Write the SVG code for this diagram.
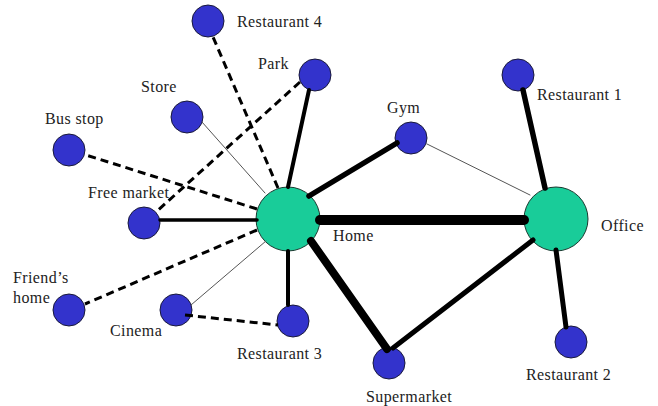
<svg xmlns="http://www.w3.org/2000/svg" width="658" height="406" viewBox="0 0 658 406">
<style>
.bg{fill:#ffffff}
.site{fill:#3333cc;stroke:#1a1a3a;stroke-width:1}
.hub{fill:#19cc99;stroke:#1a3a30;stroke-width:1}
.lbl{font-family:"Liberation Serif","Times New Roman",serif;font-size:16px;letter-spacing:0.4px;fill:#222222}
.e{stroke:#000000;fill:none;stroke-linecap:round}
.thin{stroke:#555555;stroke-width:1}
.dash{stroke-width:3;stroke-dasharray:8 5;stroke-linecap:butt}
</style>
<rect class="bg" x="0" y="0" width="658" height="406"/>
<g id="nodes">
  <g id="home"><circle class="hub" cx="288" cy="219" r="32"/><text class="lbl" x="333" y="241">Home</text></g>
  <g id="office"><circle class="hub" cx="556" cy="219" r="32"/><text class="lbl" x="601" y="231">Office</text></g>
  <g id="restaurant4"><circle class="site" cx="208" cy="21" r="16"/><text class="lbl" x="237" y="27">Restaurant 4</text></g>
  <g id="park"><circle class="site" cx="315" cy="75" r="16"/><text class="lbl" x="258" y="69">Park</text></g>
  <g id="store"><circle class="site" cx="187" cy="117" r="16"/><text class="lbl" x="141" y="92">Store</text></g>
  <g id="busstop"><circle class="site" cx="69" cy="150" r="16"/><text class="lbl" x="45" y="124">Bus stop</text></g>
  <g id="gym"><circle class="site" cx="411" cy="138" r="16"/><text class="lbl" x="387" y="113">Gym</text></g>
  <g id="restaurant1"><circle class="site" cx="518" cy="75" r="16"/><text class="lbl" x="537" y="100">Restaurant 1</text></g>
  <g id="freemarket"><circle class="site" cx="144" cy="223" r="16"/><text class="lbl" x="88" y="198">Free market</text></g>
  <g id="friendshome"><circle class="site" cx="69" cy="310" r="16"/><text class="lbl" x="13" y="283">Friend’s</text><text class="lbl" x="13" y="303">home</text></g>
  <g id="cinema"><circle class="site" cx="176" cy="310" r="16"/><text class="lbl" x="110" y="336">Cinema</text></g>
  <g id="restaurant3"><circle class="site" cx="293" cy="321" r="16"/><text class="lbl" x="237" y="359">Restaurant 3</text></g>
  <g id="supermarket"><circle class="site" cx="389" cy="363" r="16"/><text class="lbl" x="366" y="402">Supermarket</text></g>
  <g id="restaurant2"><circle class="site" cx="571" cy="342" r="16"/><text class="lbl" x="526" y="380">Restaurant 2</text></g>
</g>
<g id="connectors">
  <line class="e" x1="320" y1="220" x2="524" y2="220" stroke-width="10"/>
  <line class="e" x1="311" y1="241" x2="387" y2="349" stroke-width="8"/>
  <line class="e" x1="533" y1="240" x2="393" y2="348" stroke-width="5"/>
  <line class="e" x1="309" y1="196" x2="397" y2="143" stroke-width="5.5"/>
  <line class="e thin" x1="427" y1="144" x2="530" y2="195"/>
  <line class="e" x1="523" y1="90" x2="545" y2="188" stroke-width="5.5"/>
  <line class="e" x1="556" y1="250" x2="566" y2="327" stroke-width="5"/>
  <line class="e" x1="288" y1="187" x2="309" y2="90" stroke-width="4"/>
  <line class="e dash" x1="278" y1="188" x2="213" y2="37"/>
  <line class="e thin" x1="265" y1="193" x2="202" y2="122"/>
  <line class="e dash" x1="257" y1="209" x2="86" y2="155"/>
  <line class="e dash" x1="300" y1="82" x2="156" y2="212"/>
  <line class="e" x1="257" y1="220" x2="160" y2="220" stroke-width="3.5"/>
  <line class="e dash" x1="257" y1="230" x2="85" y2="304"/>
  <line class="e thin" x1="266" y1="241" x2="191" y2="305"/>
  <line class="e" x1="288" y1="251" x2="288" y2="305" stroke-width="4"/>
  <line class="e dash" x1="185" y1="315" x2="278" y2="325"/>
</g>
</svg>
